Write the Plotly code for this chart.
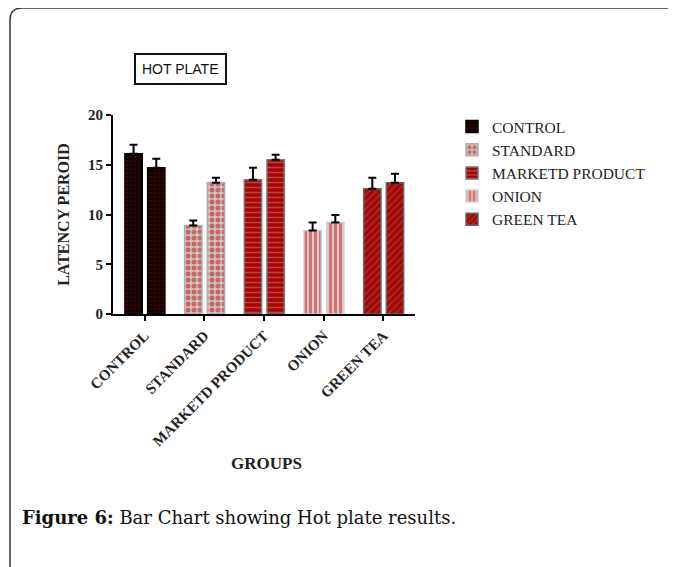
import plotly.graph_objects as go

groups = ["CONTROL", "STANDARD", "MARKETD PRODUCT", "ONION", "GREEN TEA"]
trial1 = [16.1, 8.9, 13.5, 8.4, 12.6]
trial2 = [14.7, 13.2, 15.5, 9.2, 13.2]
err1 = [0.9, 0.5, 1.2, 0.8, 1.1]
err2 = [0.9, 0.5, 0.5, 0.75, 0.9]

styles = [
    dict(bg="#0a0000", fg="#7a0000", shape=".", line="#000000", size=4, sol=0.35),
    dict(bg="#c8c8c8", fg="#d00000", shape=".", line="#b0b0b0", size=6, sol=0.55),
    dict(bg="#b00000", fg="#9a9a9a", shape="-", line="#777777", size=5, sol=0.3),
    dict(bg="#e4e4e4", fg="#c00000", shape="|", line="#d0d0d0", size=5, sol=0.7),
    dict(bg="#b00000", fg="#707070", shape="/", line="#666666", size=5, sol=0.3),
]

fig = go.Figure()
for i, g in enumerate(groups):
    s = styles[i]
    fig.add_trace(go.Bar(
        x=[g, g],
        y=[trial1[i], trial2[i]],
        name=g,
        width=0.29,
        offset=[-0.33, 0.05],
        marker=dict(
            color=s["bg"],
            line=dict(color=s["line"], width=1.5),
            pattern=dict(shape=s["shape"], fgcolor=s["fg"], bgcolor=s["bg"],
                         size=s["size"], solidity=s["sol"], fillmode="overlay"),
        ),
        error_y=dict(type="data", symmetric=False, array=[err1[i], err2[i]],
                     arrayminus=[0, 0], color="black", thickness=2, width=4),
    ))

# page body margin offset
OFF = 8
W, H = 676 - OFF, 567 - OFF
# plot area in reference pixel coords
X0, X1, Y0, Y1 = 113, 415, 115, 314
L, R, T, B = X0 - OFF, 676 - X1, Y0 - OFF, 567 - Y1
pw, ph = X1 - X0, Y1 - Y0

def px(x):
    return (x - X0) / pw

def py(y):
    return (Y1 - y) / ph

serif = "Liberation Serif, Times New Roman, serif"
fig.update_layout(
    width=W, height=H,
    margin=dict(l=L, r=R, t=T, b=B),
    barmode="overlay",
    plot_bgcolor="white", paper_bgcolor="white",
    showlegend=True,
    legend=dict(x=px(452), y=py(110), xanchor="left", yanchor="top",
                font=dict(family=serif, size=15.5, color="#222"),
                itemwidth=30, tracegroupgap=0, bgcolor="rgba(0,0,0,0)"),
    xaxis=dict(
        range=[-0.53, 4.53], showline=True, linecolor="black", linewidth=2,
        ticks="outside", ticklen=5, tickwidth=2, tickcolor="black",
        tickangle=-45, tickfont=dict(family=serif, size=15, color="#222", weight="bold"),
        showgrid=False, zeroline=False,
    ),
    yaxis=dict(
        range=[0, 20], dtick=5, showline=True, linecolor="black", linewidth=2,
        ticks="outside", ticklen=5, tickwidth=2, tickcolor="black",
        tickfont=dict(family=serif, size=15, color="#222", weight="bold"),
        showgrid=False, zeroline=False,
        title=dict(text="LATENCY PEROID", font=dict(family=serif, size=16, color="#222", weight="bold"),
                   standoff=14),
    ),
    annotations=[
        dict(text="HOT PLATE", x=px(180), y=py(69), xref="paper", yref="paper",
             xanchor="center", yanchor="middle",
             showarrow=False, font=dict(family="Liberation Sans, Arial", size=14, color="#111"),
             bordercolor="#111", borderwidth=2, borderpad=6, bgcolor="white"),
        dict(text="<b>GROUPS</b>", x=px(266), y=py(463), xref="paper", yref="paper",
             xanchor="center", yanchor="middle",
             showarrow=False, font=dict(family=serif, size=17, color="#222")),
        dict(text="<b>Figure 6:</b> Bar Chart showing Hot plate results.",
             x=px(20), y=py(517), xref="paper", yref="paper", xanchor="left", yanchor="middle",
             showarrow=False, font=dict(family="DejaVu Serif, serif", size=18, color="#111")),
    ],
    shapes=[
        dict(type="path", xref="paper", yref="paper",
             path=(f"M {px(10)},{py(580)} L {px(10)},{py(20)} "
                   f"Q {px(10)},{py(8)} {px(22)},{py(8)} L {px(690)},{py(8)}"),
             line=dict(color="#333", width=1.5)),
    ],
)

fig.write_html("out.html")
